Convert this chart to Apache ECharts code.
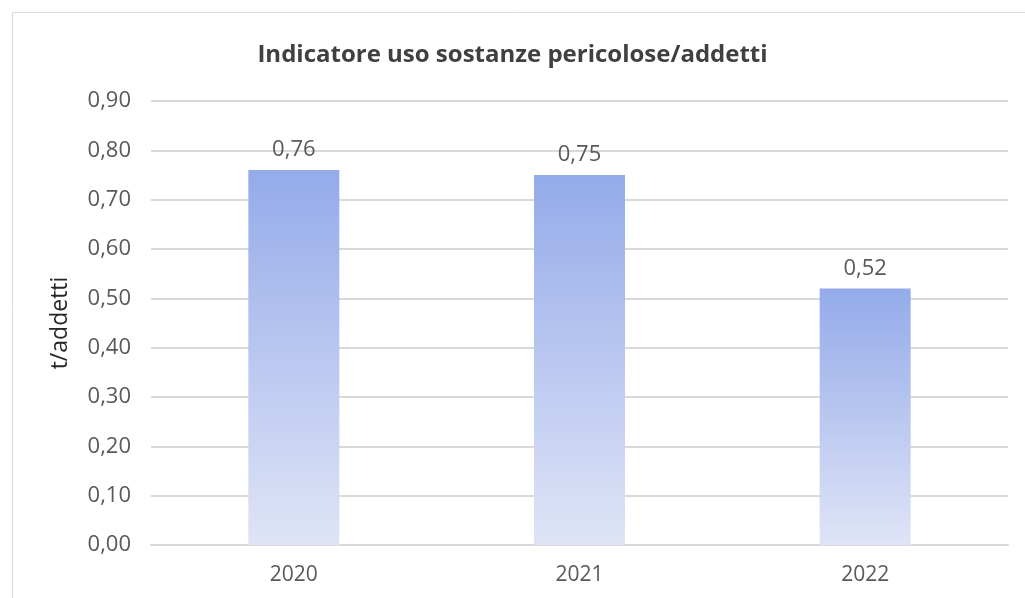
<!DOCTYPE html>
<html>
<head>
<meta charset="utf-8">
<script src="https://cdn.jsdelivr.net/npm/echarts@6/dist/echarts.min.js"></script>
<style>
  html, body { margin: 0; padding: 0; background: #fff; }
  #chart { width: 1025px; height: 598px; }
</style>
</head>
<body>
<div id="chart"></div>
<script>
// chart data
const years = ['2020', '2021', '2022']
const values = [0.76, 0.75, 0.52]

const chart = echarts.init(document.getElementById('chart'))
const fmt = v => v.toFixed(2).replace('.', ',')

chart.setOption({
  animation: false,
  textStyle: { fontFamily: 'Open Sans, Liberation Sans, sans-serif' },
  graphic: [{
    type: 'rect',
    shape: { x: 12.5, y: 12.5, width: 1100, height: 700 },
    style: { fill: 'none', stroke: '#d9d9d9', lineWidth: 1 },
    silent: true
  }],
  title: {
    text: 'Indicatore uso sostanze pericolose/addetti',
    left: 'center',
    top: 38,
    textStyle: { fontSize: 24, fontWeight: 'bold', color: '#404040' }
  },
  grid: { left: 151, right: 17, top: 101, bottom: 53 },
  xAxis: {
    type: 'category',
    data: years,
    axisLine: { lineStyle: { color: '#d9d9d9', width: 2 } },
    axisTick: { show: false },
    axisLabel: { color: '#595959', fontSize: 21, margin: 20 }
  },
  yAxis: {
    type: 'value',
    min: 0,
    max: 0.9,
    interval: 0.1,
    name: 't/addetti',
    nameLocation: 'middle',
    nameGap: 79,
    nameTextStyle: { color: '#262626', fontSize: 23 },
    axisLine: { show: false },
    axisTick: { show: false },
    splitLine: { lineStyle: { color: '#d9d9d9', width: 2 } },
    axisLabel: { color: '#595959', fontSize: 22, margin: 20, formatter: fmt }
  },
  series: [{
    type: 'bar',
    data: values,
    barWidth: 91,
    itemStyle: {
      color: new echarts.graphic.LinearGradient(0, 0, 0, 1, [
        { offset: 0, color: '#94abea' },
        { offset: 1, color: '#dfe4f6' }
      ])
    },
    label: {
      show: true,
      position: 'top',
      distance: 9,
      color: '#595959',
      fontSize: 22,
      formatter: p => fmt(p.value)
    }
  }]
})
</script>
</body>
</html>
